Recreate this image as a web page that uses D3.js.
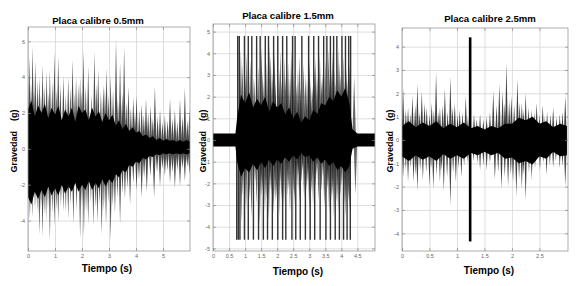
<!DOCTYPE html>
<html>
<head>
<meta charset="utf-8">
<script src="https://cdn.jsdelivr.net/npm/d3@7"></script>
<style>
  html, body { margin: 0; padding: 0; background: #fff; }
  text { font-family: "Liberation Sans", Arial, sans-serif; }
</style>
</head>
<body>
<div id="chart"></div>
<script>
// ---- Panel 1: Placa calibre 0.5mm ----
const p1XTicks = [0, 1, 2, 3, 4, 5];
const p1YTicks = [-4, -2, 0, 2, 4, 6];
const p1CoreT  = d3.range(0, 6.0001, 0.125);
const p1CoreHi = [2.2, 2.7, 1.8, 2.4, 2.0, 2.5, 1.7, 2.3, 1.9, 2.4, 1.6, 2.2, 1.8, 2.3, 1.5, 2.4, 2.0, 2.2, 1.6, 2.3, 1.8, 2.1, 1.5, 2.0, 1.6, 1.9, 1.3, 1.6, 1.1, 1.4, 1.0, 1.2, 0.9, 1.0, 0.7, 0.8, 0.6, 0.7, 0.5, 0.6, 0.45, 0.55, 0.45, 0.5, 0.4, 0.5, 0.4, 0.5, 0.4];
const p1CoreLo = [-2.7, -3.1, -2.4, -2.8, -2.3, -2.7, -2.1, -2.6, -2.2, -2.6, -2.0, -2.5, -2.1, -2.4, -1.9, -2.4, -2.0, -2.3, -1.8, -2.3, -1.9, -2.2, -1.7, -2.1, -1.7, -1.9, -1.4, -1.6, -1.2, -1.3, -0.9, -1.0, -0.7, -0.8, -0.5, -0.6, -0.4, -0.45, -0.3, -0.35, -0.25, -0.3, -0.25, -0.3, -0.25, -0.3, -0.25, -0.3, -0.25];
const p1UpT = [0.05, 0.17, 0.27, 0.42, 0.54, 0.69, 0.81, 0.98, 1.12, 1.31, 1.49, 1.65, 1.78, 1.93, 2.05, 2.23, 2.46, 2.60, 2.79, 2.91, 3.06, 3.26, 3.41, 3.56, 3.72, 3.90, 4.02, 4.21, 4.37, 4.54, 4.70, 4.89, 5.07, 5.26, 5.44, 5.63, 5.81, 5.98,
               0.11, 0.22, 0.35, 0.48, 0.61, 0.75, 0.90, 1.05, 1.20, 1.40, 1.57, 1.71, 1.86, 1.99, 2.14, 2.35, 2.53, 2.70, 2.85, 2.98, 3.15, 3.33, 3.49, 3.64, 3.81, 3.96, 4.12, 4.29, 4.45, 4.62, 4.80, 4.98, 5.17, 5.35, 5.53, 5.72, 5.90];
const p1UpV = [5.1, 5.7, 4.9, 4.0, 4.7, 4.3, 4.4, 5.4, 5.2, 4.1, 4.0, 5.0, 4.0, 4.0, 5.5, 4.6, 5.4, 4.4, 3.6, 4.5, 4.1, 6.1, 4.8, 5.7, 3.5, 2.9, 3.0, 2.5, 2.8, 2.4, 3.5, 2.2, 1.9, 2.8, 2.2, 2.8, 3.4, 2.2,
               3.6, 3.2, 3.8, 3.0, 3.5, 3.1, 3.7, 3.3, 3.6, 3.0, 3.4, 3.1, 3.6, 3.2, 3.5, 3.0, 3.6, 3.2, 3.4, 3.0, 3.3, 2.8, 3.1, 2.6, 2.3, 2.0, 2.2, 1.9, 2.0, 1.7, 1.8, 1.5, 1.6, 1.7, 1.5, 1.8, 1.6];
const p1DnT = [0.07, 0.26, 0.42, 0.54, 0.67, 0.81, 0.98, 1.12, 1.31, 1.49, 1.68, 1.93, 2.07, 2.23, 2.42, 2.57, 2.73, 2.89, 3.06, 3.22, 3.41, 3.59, 3.78, 4.02, 4.21, 4.40, 4.67, 4.89, 5.07, 5.26, 5.44, 5.63, 5.81, 5.98,
               0.16, 0.34, 0.48, 0.60, 0.74, 0.90, 1.05, 1.22, 1.40, 1.58, 1.80, 2.00, 2.15, 2.33, 2.50, 2.65, 2.81, 2.97, 3.14, 3.31, 3.50, 3.68, 3.90, 4.11, 4.30, 4.53, 4.78, 4.98, 5.16, 5.35, 5.53, 5.72, 5.90];
const p1DnV = [-3.9, -3.4, -4.8, -4.9, -4.0, -5.1, -4.3, -4.1, -3.5, -3.9, -4.2, -5.0, -4.9, -4.2, -4.3, -4.1, -4.8, -4.2, -5.1, -3.6, -4.2, -2.8, -3.1, -2.3, -2.7, -2.4, -2.7, -2.1, -1.5, -1.9, -2.2, -2.1, -1.8, -1.4,
               -3.8, -3.5, -3.4, -3.6, -3.3, -3.6, -3.4, -3.2, -3.5, -3.1, -3.4, -3.2, -3.5, -3.0, -3.3, -3.1, -3.4, -3.0, -3.2, -2.7, -2.5, -2.2, -1.9, -1.7, -1.6, -1.5, -1.3, -1.1, -1.2, -1.3, -1.2, -1.1, -1.0];

// ---- Panel 2: Placa calibre 1.5mm ----
const p2XTicks = [0, 0.5, 1, 1.5, 2, 2.5, 3, 3.5, 4, 4.5];
const p2YTicks = [-5, -4, -3, -2, -1, 0, 1, 2, 3, 4, 5];
const p2Sat = [4.8, -4.6];
const p2CoreT  = [0, 0.7, 0.75, 0.875, 1.0, 1.125, 1.25, 1.375, 1.5, 1.625, 1.75, 1.875, 2.0, 2.125, 2.25, 2.375, 2.5, 2.625, 2.75, 2.875, 3.0, 3.125, 3.25, 3.375, 3.5, 3.625, 3.75, 3.875, 4.0, 4.125, 4.25, 4.35, 4.5, 5.05];
const p2CoreHi = [0.3, 0.3, 1.0, 2.1, 1.7, 2.2, 1.5, 1.9, 1.6, 2.0, 1.3, 1.8, 1.5, 1.7, 1.2, 1.5, 1.0, 1.3, 0.8, 1.1, 0.9, 1.4, 1.2, 1.7, 1.6, 2.0, 1.8, 2.3, 2.0, 2.4, 1.7, 0.5, 0.3, 0.3];
const p2CoreLo = [-0.3, -0.3, -1.0, -1.7, -1.3, -1.5, -1.1, -1.4, -1.0, -1.3, -0.9, -1.2, -0.9, -1.1, -0.8, -1.0, -0.7, -0.9, -0.6, -0.8, -0.7, -1.0, -0.8, -1.1, -0.9, -1.2, -1.0, -1.4, -1.2, -1.5, -1.2, -0.4, -0.3, -0.3];
const p2UpT = [0.77, 0.82, 0.92, 0.98, 1.05, 1.10, 1.21, 1.30, 1.36, 1.47, 1.55, 1.63, 1.73, 1.80, 1.89, 1.95, 2.02, 2.10, 2.17, 2.30, 2.40, 2.48, 2.56, 2.65, 2.77, 2.88, 2.98, 3.05, 3.14, 3.20, 3.29, 3.38, 3.45, 3.55, 3.60, 3.66, 3.70, 3.76, 3.86, 3.95, 4.02, 4.10, 4.13, 4.23, 4.29, 4.40,
               0.87, 1.01, 1.16, 1.25, 1.41, 1.51, 1.59, 1.68, 1.77, 1.85, 1.92, 2.06, 2.13, 2.22, 2.26, 2.34, 2.44, 2.52, 2.60, 2.70, 2.73, 2.82, 2.93, 3.01, 3.10, 3.17, 3.25, 3.33, 3.41, 3.50, 3.63, 3.73, 3.80, 3.83, 3.90, 3.98, 4.06, 4.16, 4.19, 4.26];
const p2UpV = [4.8, 4.8, 3.5, 4.8, 4.0, 4.8, 4.8, 2.8, 4.8, 4.8, 3.2, 4.8, 4.8, 3.9, 4.8, 2.6, 4.8, 4.1, 4.8, 4.8, 2.9, 4.8, 4.8, 3.3, 4.8, 3.0, 4.8, 2.6, 4.8, 3.8, 4.8, 2.8, 4.8, 4.8, 4.2, 4.8, 3.3, 4.8, 4.8, 3.6, 4.8, 2.7, 4.8, 4.8, 4.8, 2.9,
               4.2, 3.0, 3.7, 2.9, 3.4, 4.3, 2.7, 3.6, 4.4, 3.1, 4.0, 3.2, 2.7, 3.8, 3.0, 3.6, 4.2, 3.1, 2.6, 3.9, 2.4, 3.5, 2.8, 3.7, 2.5, 3.4, 2.9, 4.0, 3.1, 3.7, 2.9, 4.1, 3.2, 2.6, 4.3, 3.0, 3.9, 3.3, 2.8, 3.5];
const p2DnT = [0.74, 0.79, 0.84, 0.93, 0.98, 1.10, 1.26, 1.31, 1.42, 1.50, 1.57, 1.70, 1.78, 1.85, 1.94, 2.02, 2.09, 2.17, 2.27, 2.35, 2.46, 2.58, 2.66, 2.72, 2.79, 2.88, 2.96, 3.03, 3.17, 3.24, 3.34, 3.43, 3.52, 3.58, 3.66, 3.73, 3.81, 3.94, 4.02, 4.07, 4.18, 4.28, 4.44,
               0.88, 1.03, 1.14, 1.20, 1.36, 1.46, 1.54, 1.62, 1.66, 1.74, 1.82, 1.89, 1.98, 2.06, 2.13, 2.21, 2.31, 2.40, 2.50, 2.54, 2.62, 2.69, 2.76, 2.84, 2.92, 3.00, 3.07, 3.12, 3.20, 3.29, 3.38, 3.47, 3.55, 3.62, 3.70, 3.77, 3.86, 3.90, 3.98, 4.11, 4.14, 4.22, 4.25];
const p2DnV = [-4.6, -4.6, -4.6, -2.6, -4.6, -4.6, -4.6, -2.0, -4.6, -2.6, -4.6, -4.6, -2.3, -4.6, -2.9, -4.6, -1.9, -4.6, -4.6, -2.3, -4.6, -4.6, -1.6, -4.6, -1.4, -4.6, -2.0, -4.6, -4.6, -1.5, -4.6, -1.7, -4.6, -2.2, -4.6, -2.6, -4.6, -4.6, -2.1, -4.6, -4.6, -4.6, -2.5,
               -3.8, -3.2, -2.8, -3.6, -3.0, -3.9, -2.4, -3.3, -2.7, -3.7, -2.5, -3.4, -2.7, -3.5, -2.8, -3.1, -2.6, -3.3, -2.5, -3.0, -2.2, -2.9, -2.0, -2.7, -2.3, -3.2, -2.4, -3.0, -2.2, -2.8, -2.4, -3.1, -2.5, -3.4, -2.8, -3.6, -2.9, -3.3, -2.6, -3.0, -3.6, -2.8, -3.3];

// ---- Panel 3: Placa calibre 2.5mm ----
const p3XTicks = [0, 0.5, 1, 1.5, 2, 2.5];
const p3YTicks = [-4, -3, -2, -1, 0, 1, 2, 3, 4];
const p3CoreT  = d3.range(0, 3.0001, 0.125);
const p3CoreHi = [0.6, 0.8, 0.55, 0.75, 0.6, 0.8, 0.5, 0.7, 0.55, 0.75, 0.5, 0.6, 0.45, 0.6, 0.5, 0.7, 0.7, 0.95, 0.85, 1.0, 0.7, 0.8, 0.55, 0.7, 0.6];
const p3CoreLo = [-0.7, -0.9, -0.65, -0.85, -0.7, -0.9, -0.6, -0.8, -0.65, -0.8, -0.55, -0.65, -0.5, -0.65, -0.55, -0.8, -0.75, -1.0, -0.9, -1.05, -0.7, -0.8, -0.5, -0.7, -0.65];
const p3UpT = [0.02, 0.11, 0.19, 0.28, 0.36, 0.45, 0.54, 0.62, 0.69, 0.78, 0.88, 0.96, 1.05, 1.16, 1.31, 1.42, 1.54, 1.66, 1.77, 1.83, 1.90, 1.99, 2.10, 2.18, 2.25, 2.36, 2.45, 2.56, 2.64, 2.75, 2.87, 2.97,
               0.07, 0.15, 0.24, 0.32, 0.41, 0.50, 0.58, 0.66, 0.74, 0.83, 0.92, 1.01, 1.10, 1.20, 1.36, 1.48, 1.60, 1.72, 1.87, 1.95, 2.04, 2.14, 2.21, 2.30, 2.41, 2.50, 2.60, 2.70, 2.81, 2.92];
const p3UpV = [2.2, 1.4, 1.9, 2.4, 2.1, 1.4, 1.6, 2.9, 1.4, 2.2, 2.7, 1.6, 1.3, 1.9, 1.1, 1.1, 1.0, 2.1, 2.4, 2.1, 3.3, 1.9, 2.6, 1.6, 2.0, 1.3, 1.6, 1.5, 1.2, 1.4, 1.1, 1.9,
               1.3, 1.1, 1.5, 1.2, 1.6, 1.1, 1.3, 1.2, 1.5, 1.2, 1.4, 1.1, 1.2, 1.0, 0.9, 0.9, 1.2, 1.5, 1.6, 1.7, 1.5, 1.6, 1.3, 1.4, 1.2, 1.1, 1.0, 1.1, 1.0, 1.2];
const p3DnT = [0.02, 0.11, 0.21, 0.28, 0.38, 0.50, 0.57, 0.69, 0.76, 0.88, 0.98, 1.08, 1.42, 1.54, 1.69, 1.81, 1.93, 2.02, 2.08, 2.18, 2.25, 2.36, 2.51, 2.63, 2.75, 2.87, 2.97,
               0.07, 0.16, 0.25, 0.33, 0.44, 0.53, 0.63, 0.72, 0.82, 0.93, 1.03, 1.13, 1.20, 1.30, 1.37, 1.48, 1.60, 1.75, 1.87, 1.98, 2.13, 2.21, 2.31, 2.42, 2.57, 2.69, 2.80, 2.92];
const p3DnV = [-1.6, -1.8, -1.8, -2.2, -1.7, -2.0, -2.1, -1.8, -2.2, -2.8, -1.8, -1.6, -1.3, -1.3, -1.7, -2.1, -2.0, -1.8, -2.4, -2.1, -2.6, -1.7, -1.3, -1.5, -1.2, -1.2, -2.0,
               -1.3, -1.2, -1.5, -1.3, -1.4, -1.2, -1.5, -1.3, -1.6, -1.4, -1.2, -1.1, -1.0, -0.9, -1.0, -1.1, -1.0, -1.4, -1.6, -1.5, -1.7, -1.5, -1.4, -1.2, -1.0, -1.1, -0.9, -1.1];
const p3ImpactT = 1.24, p3ImpactHi = 4.4, p3ImpactLo = -4.35;

const W = 580, H = 286;
const svg = d3.select("#chart").append("svg")
    .attr("width", W)
    .attr("height", H);

function drawPanel(p, idx) {
    const x = d3.scaleLinear().domain(p.xDomain).range([p.left, p.right]);
    const y = d3.scaleLinear().domain(p.yDomain).range([p.bottom, p.top]);
    const g = svg.append("g");

    // grid
    g.append("g")
        .attr("transform", `translate(0,${p.bottom})`)
        .call(d3.axisBottom(x).tickValues(p.xTicks).tickSize(-(p.bottom - p.top)).tickFormat(""))
        .call(a => a.select(".domain").remove())
        .selectAll("line").attr("stroke", "#d6d6d6").attr("stroke-width", 0.8);
    g.append("g")
        .attr("transform", `translate(${p.left},0)`)
        .call(d3.axisLeft(y).tickValues(p.yTicks).tickSize(-(p.right - p.left)).tickFormat(""))
        .call(a => a.select(".domain").remove())
        .selectAll("line").attr("stroke", "#d6d6d6").attr("stroke-width", 0.8);

    // signal, clipped to the plot box
    svg.append("clipPath").attr("id", "clip" + idx)
        .append("rect")
        .attr("x", p.left).attr("y", p.top)
        .attr("width", p.right - p.left).attr("height", p.bottom - p.top);
    const sig = g.append("g").attr("clip-path", `url(#clip${idx})`);

    const area = d3.area()
        .x(i => x(p.coreT[i]))
        .y0(i => y(p.coreLo[i]))
        .y1(i => y(p.coreHi[i]));
    sig.append("path")
        .attr("d", area(d3.range(p.coreT.length)))
        .attr("fill", "#000");

    const spikes = [];
    p.upT.forEach((t, i) => spikes.push({ t: t, v: p.upV[i] }));
    p.dnT.forEach((t, i) => spikes.push({ t: t, v: p.dnV[i] }));

    const sat = p.sat || [Infinity, -Infinity];
    const isSat = d => d.v >= sat[0] || d.v <= sat[1];

    // tapering spikes
    sig.selectAll(".spike")
        .data(spikes.filter(d => !isSat(d)))
        .join("path")
        .attr("class", "spike")
        .attr("d", d => {
            const cx = x(d.t), y0 = y(0), yt = y(d.v);
            return `M${cx - p.hw},${y0}L${cx},${yt}L${cx + p.hw},${y0}Z`;
        })
        .attr("fill", "#000")
        .attr("fill-opacity", p.op);

    // clipped (saturated) spikes
    sig.selectAll(".sat")
        .data(spikes.filter(isSat))
        .join("line")
        .attr("class", "sat")
        .attr("x1", d => x(d.t)).attr("x2", d => x(d.t))
        .attr("y1", y(0)).attr("y2", d => y(d.v))
        .attr("stroke", "#000")
        .attr("stroke-opacity", 0.8)
        .attr("stroke-width", 1.4);

    if (p.impact) {
        sig.append("line")
            .attr("x1", x(p.impact.t)).attr("x2", x(p.impact.t))
            .attr("y1", y(p.impact.lo)).attr("y2", y(p.impact.hi))
            .attr("stroke", "#000")
            .attr("stroke-width", 2.6);
    }

    // box
    g.append("rect")
        .attr("x", p.left).attr("y", p.top)
        .attr("width", p.right - p.left).attr("height", p.bottom - p.top)
        .attr("fill", "none")
        .attr("stroke", "#9a9a9a")
        .attr("stroke-width", 0.8);

    const styleAxis = a => {
        a.select(".domain").remove();
        a.selectAll("line").attr("stroke", "#888").attr("stroke-width", 0.7);
        a.selectAll("text").attr("fill", "#666").style("font-size", "5.5px");
    };
    const fmt = d => String(d);
    g.append("g").attr("transform", `translate(0,${p.bottom})`)
        .call(d3.axisBottom(x).tickValues(p.xTicks).tickSize(-3).tickPadding(3).tickFormat(fmt))
        .call(styleAxis);
    g.append("g").attr("transform", `translate(0,${p.top})`)
        .call(d3.axisTop(x).tickValues(p.xTicks).tickSize(-3).tickFormat(""))
        .call(styleAxis);
    g.append("g").attr("transform", `translate(${p.left},0)`)
        .call(d3.axisLeft(y).tickValues(p.yTicks).tickSize(-3).tickPadding(3).tickFormat(fmt))
        .call(styleAxis);
    g.append("g").attr("transform", `translate(${p.right},0)`)
        .call(d3.axisRight(y).tickValues(p.yTicks).tickSize(-3).tickFormat(""))
        .call(styleAxis);

    // labels
    g.append("text")
        .attr("x", p.titleX).attr("y", p.titleY)
        .attr("text-anchor", "middle")
        .style("font-size", "9.6px").style("font-weight", "bold")
        .text(p.title);
    g.append("text")
        .attr("x", p.xlabX).attr("y", p.xlabY)
        .attr("text-anchor", "middle")
        .style("font-size", "10px").style("font-weight", "bold")
        .text("Tiempo (s)");
    g.append("text")
        .attr("transform", `translate(${p.ylabX},${p.ylabY}) rotate(-90)`)
        .attr("text-anchor", "middle")
        .style("font-size", "9px").style("font-weight", "bold")
        .style("white-space", "pre")
        .text("Gravedad    (g)");
}

const panels = [
    {
        left: 28, right: 190, top: 27, bottom: 251,
        xDomain: [0, 6], yDomain: [-5.7, 6.8],
        xTicks: p1XTicks, yTicks: p1YTicks,
        coreT: p1CoreT, coreHi: p1CoreHi, coreLo: p1CoreLo,
        upT: p1UpT, upV: p1UpV, dnT: p1DnT, dnV: p1DnV,
        hw: 1.7, op: 0.7,
        title: "Placa calibre 0.5mm", titleX: 98, titleY: 24,
        xlabX: 107, xlabY: 272, ylabX: 17, ylabY: 141
    },
    {
        left: 213, right: 375, top: 24, bottom: 251,
        xDomain: [0, 5.05], yDomain: [-5.12, 5.35],
        xTicks: p2XTicks, yTicks: p2YTicks,
        coreT: p2CoreT, coreHi: p2CoreHi, coreLo: p2CoreLo,
        upT: p2UpT, upV: p2UpV, dnT: p2DnT, dnV: p2DnV,
        sat: p2Sat, hw: 1.9, op: 0.6,
        title: "Placa calibre 1.5mm", titleX: 288, titleY: 19,
        xlabX: 298, xlabY: 275, ylabX: 206, ylabY: 141
    },
    {
        left: 402, right: 568, top: 28, bottom: 251,
        xDomain: [0, 3.02], yDomain: [-4.76, 4.8],
        xTicks: p3XTicks, yTicks: p3YTicks,
        coreT: p3CoreT, coreHi: p3CoreHi, coreLo: p3CoreLo,
        upT: p3UpT, upV: p3UpV, dnT: p3DnT, dnV: p3DnV,
        hw: 1.6, op: 0.75,
        impact: { t: p3ImpactT, hi: p3ImpactHi, lo: p3ImpactLo },
        title: "Placa calibre 2.5mm", titleX: 490, titleY: 22,
        xlabX: 489, xlabY: 274, ylabX: 393, ylabY: 141
    }
];

panels.forEach(drawPanel);
</script>
</body>
</html>
